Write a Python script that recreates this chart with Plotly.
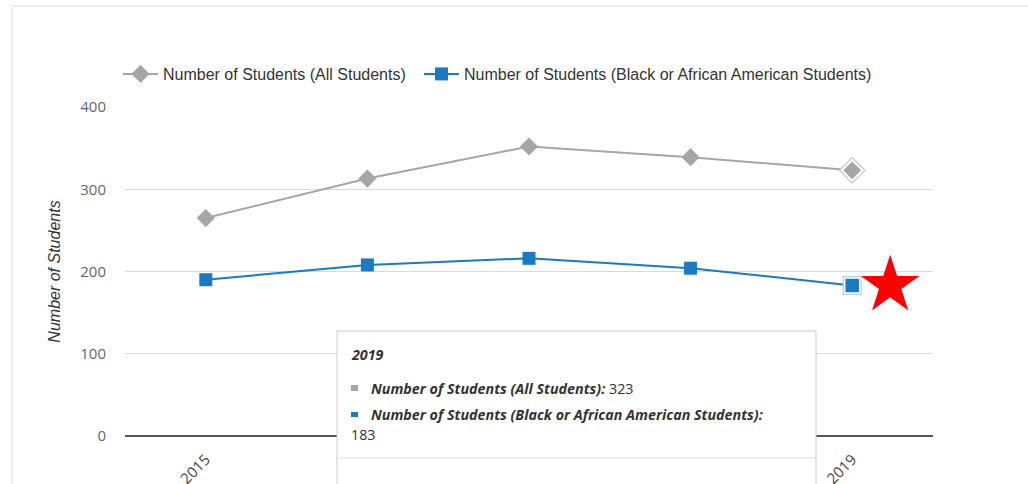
import plotly.graph_objects as go

years = [2015, 2016, 2017, 2018, 2019]
all_students = [265, 313, 352, 339, 323]
black_students = [190, 208, 216, 204, 183]
series_names = ["Number of Students (All Students)",
                "Number of Students (Black or African American Students)"]
y_ticks = [0, 100, 200, 300, 400]
hover_year = 2019
hover_idx = years.index(hover_year)

GRAY = "#a6a6a6"
BLUE = "#1a7ac4"

fig = go.Figure()

fig.add_trace(go.Scatter(
    x=years, y=all_students, name=series_names[0], mode="lines+markers",
    line=dict(color=GRAY, width=2), legend="legend",
    marker=dict(symbol="diamond", size=14, color=GRAY),
))
fig.add_trace(go.Scatter(
    x=years, y=black_students, name=series_names[1], mode="lines+markers",
    line=dict(color=BLUE, width=2), legend="legend2",
    marker=dict(symbol="square", size=13, color=BLUE),
))

# hover highlight on the last point
fig.add_trace(go.Scatter(
    x=[hover_year], y=[all_students[hover_idx]], mode="markers", showlegend=False,
    marker=dict(symbol="diamond", size=21, color="#c9c9c9"), hoverinfo="skip",
))
fig.add_trace(go.Scatter(
    x=[hover_year], y=[all_students[hover_idx]], mode="markers", showlegend=False,
    marker=dict(symbol="diamond", size=16, color=GRAY, line=dict(color="white", width=2)),
    hoverinfo="skip",
))
fig.add_trace(go.Scatter(
    x=[hover_year], y=[black_students[hover_idx]], mode="markers", showlegend=False,
    marker=dict(symbol="square", size=19, color="#b9cfe2"), hoverinfo="skip",
))
fig.add_trace(go.Scatter(
    x=[hover_year], y=[black_students[hover_idx]], mode="markers", showlegend=False,
    marker=dict(symbol="square", size=15, color=BLUE, line=dict(color="white", width=1.5)),
    hoverinfo="skip",
))
# red star marker next to the 2019 point
fig.add_trace(go.Scatter(
    x=[hover_year + 0.235], y=[black_students[hover_idx]], mode="markers", showlegend=False,
    marker=dict(symbol="star", size=44, color="#ff0000"), hoverinfo="skip",
))

L, R, T, B = 125, 95, 107, 48
W, H = 1028, 484
pw, ph = W - L - R, H - T - B


def px(x):
    return (x - L) / pw


def py(y):
    return (H - B - y) / ph


shapes = [
    # card border
    dict(type="line", xref="paper", yref="paper", x0=px(12), x1=px(12), y0=py(6), y1=py(490),
         line=dict(color="#e8e8e8", width=1.5)),
    dict(type="line", xref="paper", yref="paper", x0=px(12), x1=px(1040), y0=py(6), y1=py(6),
         line=dict(color="#e8e8e8", width=1.5)),
    # tooltip box
    dict(type="rect", xref="paper", yref="paper", x0=px(337), x1=px(816), y0=py(495), y1=py(331),
         fillcolor="white", line=dict(color="#cccccc", width=1), layer="above"),
    dict(type="line", xref="paper", yref="paper", x0=px(337), x1=px(816), y0=py(458), y1=py(458),
         line=dict(color="#dddddd", width=1), layer="above"),
    dict(type="rect", xref="paper", yref="paper", x0=px(351), x1=px(358), y0=py(391), y1=py(385),
         fillcolor=GRAY, line=dict(width=0), layer="above"),
    dict(type="rect", xref="paper", yref="paper", x0=px(351), x1=px(358), y0=py(417), y1=py(412),
         fillcolor=BLUE, line=dict(width=0), layer="above"),
]

tip_font = dict(family="Open Sans", size=14.3, color="#333333")
annotations = [
    dict(xref="paper", yref="paper", x=px(349), y=py(354), xanchor="left", yanchor="middle",
         text=f"<b><i>{hover_year}</i></b>", showarrow=False, font=tip_font),
    dict(xref="paper", yref="paper", x=px(369), y=py(388), xanchor="left", yanchor="middle",
         text=f"<b><i>{series_names[0]}:</i></b> {all_students[hover_idx]}", showarrow=False,
         font=tip_font),
    dict(xref="paper", yref="paper", x=px(369), y=py(414), xanchor="left", yanchor="middle",
         text=f"<b><i>{series_names[1]}:</i></b>", showarrow=False, font=tip_font),
    dict(xref="paper", yref="paper", x=px(349), y=py(434), xanchor="left", yanchor="middle",
         text=f"{black_students[hover_idx]}", showarrow=False, font=tip_font),
]

legend_font = dict(family="Liberation Sans, Arial", size=16, color="#333333")

fig.update_layout(
    width=W, height=H,
    margin=dict(l=L, r=R, t=T, b=B, autoexpand=False),
    paper_bgcolor="white", plot_bgcolor="white",
    showlegend=True,
    legend=dict(orientation="h", x=px(118), xanchor="left", y=py(74), yanchor="middle",
                font=legend_font, itemwidth=35, bgcolor="rgba(0,0,0,0)"),
    legend2=dict(orientation="h", x=px(419), xanchor="left", y=py(74), yanchor="middle",
                 font=legend_font, itemwidth=35, bgcolor="rgba(0,0,0,0)"),
    shapes=shapes,
    annotations=annotations,
    xaxis=dict(
        range=[years[0] - 0.5, years[-1] + 0.5], tickvals=years, ticktext=[str(y) for y in years],
        tickangle=-45, showgrid=False, zeroline=False, showline=False, automargin=False,
        ticks="outside", ticklen=8, tickcolor="rgba(0,0,0,0)",
        tickfont=dict(family="Open Sans", size=15, color="#444444"),
    ),
    yaxis=dict(
        range=[0, 400], tickvals=y_ticks, showgrid=True, gridcolor="#d9d9d9", gridwidth=1,
        zeroline=True, zerolinecolor="#555555", zerolinewidth=1.5, showline=False,
        automargin=False,
        ticks="outside", ticklen=15, tickcolor="rgba(0,0,0,0)",
        tickfont=dict(family="Open Sans", size=15, color="#666666"),
        title=dict(text="<i>Number of Students</i>", standoff=15,
                   font=dict(family="Liberation Sans, Arial", size=16, color="#333333")),
    ),
)

fig.write_html("out.html")
